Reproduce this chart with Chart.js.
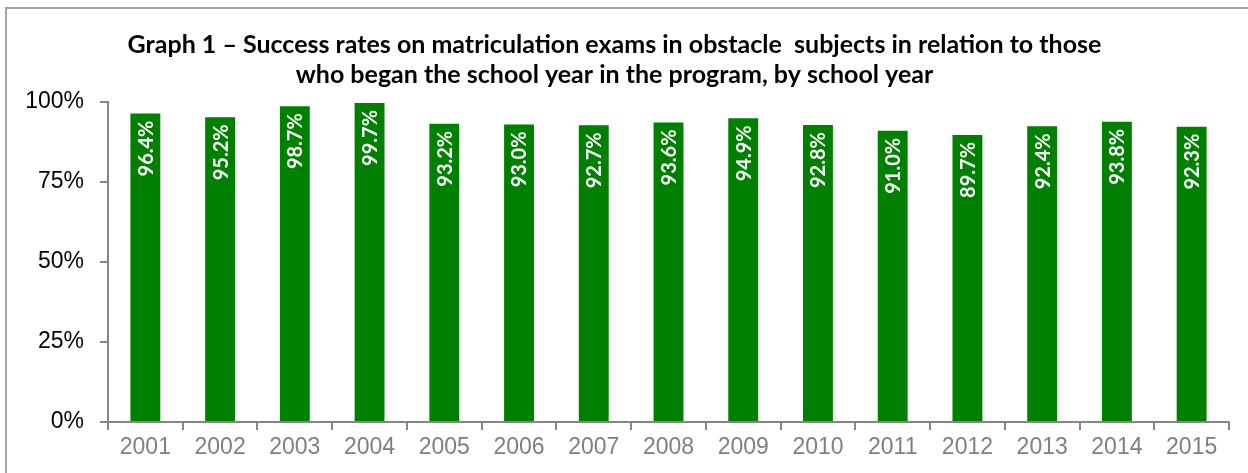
<!DOCTYPE html>
<html>
<head>
<meta charset="utf-8">
<script src="https://cdn.jsdelivr.net/npm/chart.js@4"></script>
<style>
  html, body { margin: 0; padding: 0; background: #fff; overflow: hidden; }
  #wrap { width: 1248px; height: 473px; }
</style>
</head>
<body>
<div id="wrap"><canvas id="myChart" width="1248" height="473"></canvas></div>
<script>
const years = ["2001", "2002", "2003", "2004", "2005", "2006", "2007", "2008",
  "2009", "2010", "2011", "2012", "2013", "2014", "2015"];
const successRates = [96.4, 95.2, 98.7, 99.7, 93.2, 93.0, 92.7, 93.6,
  94.9, 92.8, 91.0, 89.7, 92.4, 93.8, 92.3];
const yTicks = [0, 25, 50, 75, 100];

// frame around the chart (left + top edges are visible)
const framePlugin = {
  id: "frame",
  beforeDraw(chart) {
    const c = chart.ctx;
    c.save();
    c.strokeStyle = "#a6a6a6";
    c.lineWidth = 2;
    c.strokeRect(6, 8, 1300, 500);
    c.restore();
  },
};

// white rotated values at the top of each bar
const barLabels = {
  id: "barLabels",
  afterDatasetsDraw(chart) {
    const c = chart.ctx;
    const meta = chart.getDatasetMeta(0);
    c.save();
    c.fillStyle = "#fff";
    c.font = "bold 20px Lato, 'Open Sans', sans-serif";
    c.textAlign = "right";
    c.textBaseline = "middle";
    meta.data.forEach((bar, i) => {
      c.save();
      c.translate(bar.x + 1, bar.y + 7);
      c.rotate(-Math.PI / 2);
      c.fillText(successRates[i].toFixed(1) + "%", 0, 0);
      c.restore();
    });
    c.restore();
  },
};

const ctx = document.getElementById("myChart").getContext("2d");

const myChart = new Chart(ctx, {
  type: "bar",
  data: {
    labels: years,
    datasets: [
      {
        data: successRates,
        backgroundColor: "#008000",
        borderWidth: 0,
        categoryPercentage: 1,
        barPercentage: 0.4,
      },
    ],
  },
  options: {
    responsive: false,
    animation: false,
    layout: { padding: { left: 0, right: 19, top: 0, bottom: 0 } },
    plugins: {
      legend: { display: false },
      tooltip: { enabled: false },
      title: {
        display: true,
        text: [
          "Graph 1 \u2013 Success rates on matriculation exams in obstacle  subjects in relation to those",
          "who began the school year in the program, by school year",
        ],
        color: "#000",
        font: { family: "Lato, 'Open Sans', sans-serif", size: 25, weight: "bold", lineHeight: 1.2 },
        padding: { top: 30, bottom: 12 },
      },
    },
    scales: {
      x: {
        grid: { offset: true, drawOnChartArea: false, drawTicks: true, tickLength: 8, color: "#868686", lineWidth: 2 },
        border: { color: "#868686", width: 2 },
        ticks: {
          color: "#7f7f7f",
          font: { family: "'Liberation Sans', Arial, sans-serif", size: 23 },
          padding: 4,
        },
        afterFit(scale) { scale.height = 51; },
      },
      y: {
        min: 0,
        max: 100,
        afterBuildTicks(scale) { scale.ticks = yTicks.map((v) => ({ value: v })); },
        grid: { drawOnChartArea: false, drawTicks: true, tickLength: 8, color: "#868686", lineWidth: 2 },
        border: { color: "#868686", width: 2 },
        ticks: {
          color: "#000",
          font: { family: "'Liberation Sans', Arial, sans-serif", size: 23 },
          padding: 16,
          callback: (v) => v + "%",
        },
        afterFit(scale) { scale.width = 108; },
      },
    },
  },
  plugins: [framePlugin, barLabels],
});
</script>
</body>
</html>
